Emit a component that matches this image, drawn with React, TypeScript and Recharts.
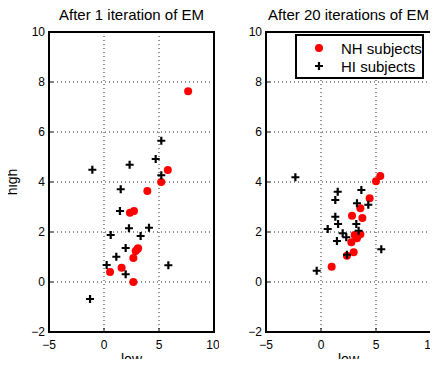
import React from 'react'
import {
  ScatterChart,
  Scatter,
  XAxis,
  YAxis,
  CartesianGrid,
  Legend,
  ReferenceArea,
} from 'recharts'

// [low, high] pairs
const leftNH = [
  [7.65, 7.63], [5.8, 4.48], [5.2, 4.0], [3.94, 3.64], [2.36, 2.77], [2.73, 2.84],
  [3.03, 1.31], [2.88, 1.24], [3.1, 1.35], [2.67, 0.96], [1.6, 0.57], [0.55, 0.4], [2.67, 0.0],
]
const leftHI = [
  [-1.27, -0.68], [-1.06, 4.49], [5.21, 5.65], [4.7, 4.92], [2.33, 4.69], [5.21, 4.27],
  [1.52, 3.71], [1.45, 2.84], [2.27, 2.15], [4.09, 2.17], [0.61, 1.88], [3.33, 1.84],
  [1.97, 1.36], [1.12, 1.01], [0.24, 0.68], [1.97, 0.31], [5.85, 0.67],
]
const rightNH = [
  [5.39, 4.24], [5.0, 4.03], [4.42, 3.35], [3.58, 2.95], [2.82, 2.65], [3.76, 2.56],
  [3.06, 1.88], [3.58, 1.91], [3.27, 1.75], [2.76, 1.59], [2.97, 1.19], [2.36, 1.05], [0.97, 0.61],
]
const rightHI = [
  [-2.33, 4.19], [3.67, 3.68], [1.52, 3.61], [1.3, 3.28], [3.27, 3.15], [4.3, 3.09],
  [1.3, 2.61], [1.55, 2.32], [3.21, 2.32], [0.61, 2.12], [3.42, 2.05], [1.97, 1.95],
  [2.3, 1.79], [1.45, 1.64], [5.48, 1.31], [2.36, 1.09], [-0.39, 0.45],
]

const xTicks = [-5, 0, 5, 10]
const yTicks = [-2, 0, 2, 4, 6, 8, 10]
const seriesNames = ['NH subjects', 'HI subjects']

const FONT = '"Liberation Sans", Arial, Helvetica, sans-serif'
const RED = '#ff0000'

const toPoints = (arr: number[][]) => arr.map(([x, y]) => ({ x, y }))
const fmt = (v: number) => String(v).replace('-', '\u2212')
const blank = () => ''

const Dot = (p: any) => <circle cx={p.cx} cy={p.cy} r={4} fill={RED} />
const Plus = (p: any) => (
  <path
    d={`M${p.cx - 4},${p.cy}h8M${p.cx},${p.cy - 4}v8`}
    stroke="#000"
    strokeWidth={2.2}
    fill="none"
  />
)

const LegendBox = () => (
  <div
    style={{
      width: 129,
      height: 45,
      boxSizing: 'border-box',
      border: '2px solid #000',
      background: '#fff',
      fontFamily: FONT,
      fontSize: 15,
      color: '#000',
      padding: '3px 0 0 0',
    }}
  >
    {seriesNames.map((name, i) => (
      <div key={name} style={{ display: 'flex', alignItems: 'center', height: 18 }}>
        <svg width={44} height={18}>
          {i === 0 ? <Dot cx={22} cy={9} /> : <Plus cx={22} cy={9} />}
        </svg>
        <span>{name}</span>
      </div>
    ))}
  </div>
)

interface PanelProps {
  title: string
  nh: number[][]
  hi: number[][]
  yWidth: number
  right: number
  yLabel?: boolean
  legend?: boolean
}

function Panel({ title, nh, hi, yWidth, right, yLabel, legend }: PanelProps) {
  const tick = { fontSize: 12, fontFamily: FONT, fill: '#000' }
  const tl = { stroke: '#000', strokeWidth: 1 }
  return (
    <ScatterChart width={219} height={367} margin={{ top: 2, right, bottom: 0, left: 0 }}>
      <CartesianGrid stroke="#222" strokeDasharray="1 3" />
      <XAxis
        type="number"
        dataKey="x"
        domain={[-5, 10]}
        ticks={xTicks}
        tick={tick}
        tickFormatter={fmt}
        stroke="#000"
        axisLine={false}
        tickLine={tl}
        tickSize={-4}
        tickMargin={12}
        height={35}
        label={{ value: 'low', position: 'insideBottom', offset: 3, fontSize: 14, fontFamily: FONT, fill: '#000' }}
      />
      <XAxis
        xAxisId="top"
        orientation="top"
        type="number"
        domain={[-5, 10]}
        ticks={xTicks}
        tickFormatter={blank}
        stroke="#000"
        axisLine={false}
        tickLine={tl}
        tickSize={-4}
        height={30}
        label={{ value: title, position: 'insideTop', offset: 7, fontSize: 15, fontFamily: FONT, fill: '#000' }}
      />
      <YAxis
        type="number"
        dataKey="y"
        domain={[-2, 10]}
        ticks={yTicks}
        tick={tick}
        tickFormatter={fmt}
        stroke="#000"
        axisLine={false}
        tickLine={tl}
        tickSize={-4}
        tickMargin={8}
        width={yWidth}
        label={
          yLabel
            ? { value: 'high', angle: -90, position: 'insideLeft', offset: 12, fontSize: 14, fontFamily: FONT, fill: '#000', style: { textAnchor: 'middle' } }
            : undefined
        }
      />
      <YAxis
        yAxisId="right"
        orientation="right"
        type="number"
        domain={[-2, 10]}
        ticks={yTicks}
        tickFormatter={blank}
        stroke="#000"
        axisLine={false}
        tickLine={tl}
        tickSize={-4}
        width={0}
      />
      <ReferenceArea
        x1={-5}
        x2={10}
        y1={-2}
        y2={10}
        fill="none"
        fillOpacity={0}
        stroke="#000"
        strokeWidth={2}
        strokeOpacity={1}
        ifOverflow="visible"
      />
      {legend && (
        <Legend
          layout="vertical"
          align="center"
          verticalAlign="middle"
          content={LegendBox}
          wrapperStyle={{ top: 34, left: 76, width: 129, height: 45 }}
        />
      )}
      <Scatter name={seriesNames[0]} data={toPoints(nh)} shape={Dot} isAnimationActive={false} />
      <Scatter name={seriesNames[1]} data={toPoints(hi)} shape={Plus} isAnimationActive={false} />
    </ScatterChart>
  )
}

export default function App() {
  return (
    <div style={{ position: 'relative', width: 438, height: 367, margin: -8, background: '#fff' }}>
      <div style={{ position: 'absolute', left: 0, top: 0 }}>
        <Panel title="After 1 iteration of EM" nh={leftNH} hi={leftHI} yWidth={49} right={5} yLabel />
      </div>
      <div style={{ position: 'absolute', left: 219, top: 0 }}>
        <Panel title="After 20 iterations of EM" nh={rightNH} hi={rightHI} yWidth={47} right={7} legend />
      </div>
    </div>
  )
}
